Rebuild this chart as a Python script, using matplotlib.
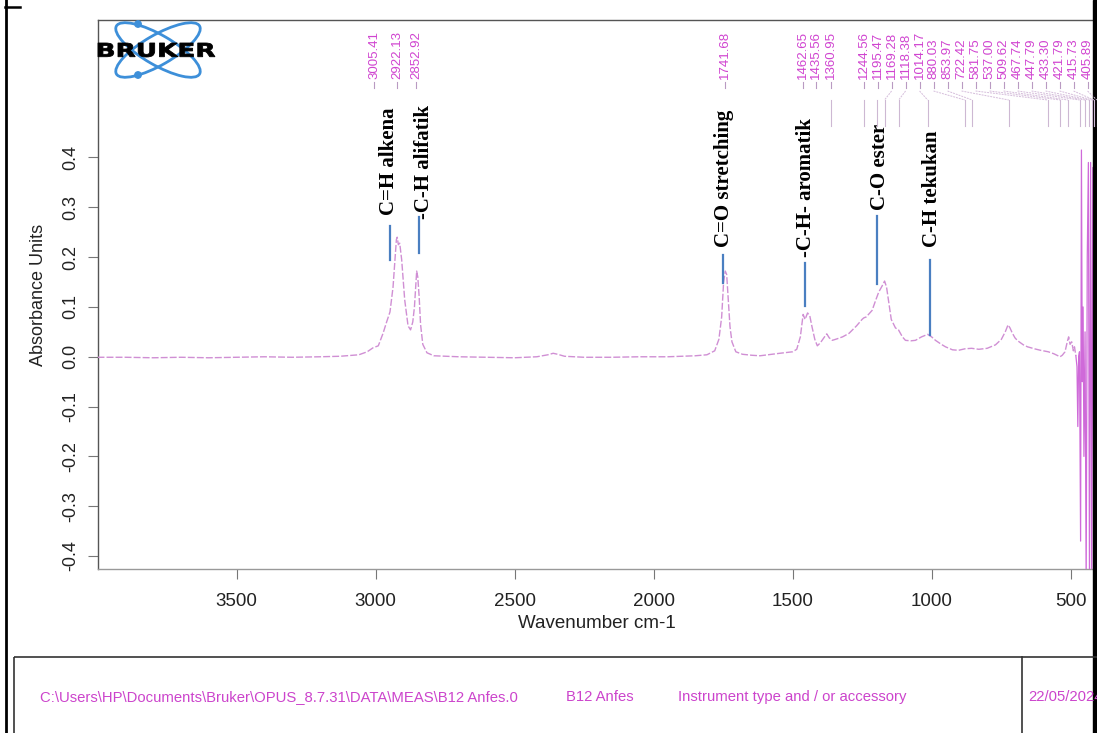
import matplotlib
matplotlib.use("Agg")
import matplotlib.pyplot as plt
from matplotlib.patches import Ellipse, Circle, Rectangle, PathPatch
from matplotlib.textpath import TextPath
from matplotlib.transforms import Affine2D
from matplotlib import font_manager

# ---------------- data ----------------
spec_wn = [4000, 3900, 3800, 3700, 3600, 3500, 3400, 3300, 3200, 3128, 3060, 3030,
           3009, 2990, 2973, 2960, 2948, 2937, 2930, 2925, 2922, 2918, 2913, 2906,
           2895, 2883, 2874, 2866, 2860, 2855, 2852, 2848, 2843, 2838, 2830, 2815,
           2790, 2700, 2600, 2500, 2420, 2380, 2361, 2345, 2320, 2250, 2150, 2050,
           1950, 1850, 1808, 1780, 1765, 1755, 1748, 1742, 1737, 1731, 1725, 1718,
           1704, 1680, 1646, 1617, 1546, 1500, 1485, 1472, 1462, 1455, 1446, 1438,
           1430, 1420, 1411, 1400, 1385, 1377, 1368, 1357, 1340, 1320, 1297, 1270,
           1250, 1244, 1235, 1214, 1200, 1190, 1178, 1169, 1162, 1155, 1145, 1130,
           1119, 1105, 1094, 1075, 1058, 1036, 1014, 1000, 986, 965, 950, 925,
           903, 880, 856, 830, 800, 770, 749, 735, 725, 718, 710, 700,
           690, 670, 655, 630, 608, 580, 560, 545, 538, 530, 520, 512,
           507, 502, 496, 490, 486, 481]
spec_abs = [-0.001, -0.001, -0.002, -0.001, -0.002, -0.001, 0.000, -0.001, 0.000, 0.001, 0.004, 0.010,
            0.018, 0.022, 0.047, 0.070, 0.090, 0.140, 0.195, 0.235, 0.240, 0.225, 0.228, 0.195,
            0.114, 0.062, 0.054, 0.070, 0.100, 0.145, 0.172, 0.160, 0.120, 0.065, 0.025, 0.008,
            0.002, 0.000, -0.001, -0.002, 0.000, 0.004, 0.007, 0.005, 0.001, -0.001, -0.001, 0.000,
            0.000, 0.002, 0.004, 0.012, 0.035, 0.080, 0.150, 0.172, 0.165, 0.113, 0.060, 0.030,
            0.010, 0.005, 0.003, 0.002, 0.007, 0.010, 0.015, 0.040, 0.085, 0.075, 0.088, 0.082,
            0.060, 0.035, 0.022, 0.028, 0.040, 0.046, 0.038, 0.033, 0.036, 0.040, 0.047, 0.062,
            0.075, 0.078, 0.080, 0.093, 0.115, 0.130, 0.142, 0.152, 0.140, 0.113, 0.075, 0.058,
            0.054, 0.040, 0.033, 0.032, 0.033, 0.040, 0.045, 0.040, 0.033, 0.025, 0.020, 0.014,
            0.013, 0.016, 0.017, 0.015, 0.017, 0.024, 0.035, 0.050, 0.064, 0.058, 0.048, 0.038,
            0.032, 0.024, 0.020, 0.016, 0.013, 0.010, 0.006, 0.002, 0.000, 0.003, 0.010, 0.030,
            0.040, 0.025, 0.030, 0.012, 0.020, 0.002]

noise_wn = [481, 477, 474, 471, 468, 464, 461, 458, 455, 452, 448, 444,
            440, 436, 432, 428, 424, 420, 416, 412, 408]
noise_abs = [0.002, -0.02, -0.14, 0.00, 0.01, -0.37, 0.415, -0.05, 0.10, -0.20, 0.05, -0.45,
             0.20, 0.39, -0.45, 0.39, -0.45, 0.38, -0.45, 0.35, -0.45]

peak_wn = [3005.41, 2922.13, 2852.92, 1741.68, 1462.65, 1435.56, 1360.95, 1244.56,
           1195.47, 1169.28, 1118.38, 1014.17, 880.03, 853.97, 722.42, 581.75,
           537.00, 509.62, 467.74, 447.79, 433.30, 421.79, 415.73, 405.89]

x_ticks = [3500, 3000, 2500, 2000, 1500, 1000, 500]
y_ticks = [-0.4, -0.3, -0.2, -0.1, 0.0, 0.1, 0.2, 0.3, 0.4]

annot_text = ["C=H alkena", "-C-H alifatik", "C=O stretching",
              "-C-H- aromatik", "C-O ester", "C-H tekukan"]
annot_line_wn = [2948, 2844, 1750, 1455, 1196, 1005]
annot_line_lo = [0.194, 0.208, 0.148, 0.101, 0.146, 0.043]
annot_line_hi = [0.262, 0.281, 0.204, 0.188, 0.282, 0.194]
annot_text_wn = [2951, 2826, 1747, 1452, 1186, 999]
annot_text_y = [0.284, 0.276, 0.220, 0.200, 0.294, 0.220]

footer_path = "C:\\Users\\HP\\Documents\\Bruker\\OPUS_8.7.31\\DATA\\MEAS\\B12 Anfes.0"
footer_sample = "B12 Anfes"
footer_instr = "Instrument type and / or accessory"
footer_date = "22/05/2024"

# ---------------- styling ----------------
plt.rcParams['font.family'] = ['Liberation Sans', 'DejaVu Sans']
plt.rcParams['axes.unicode_minus'] = False

W, H = 1097, 733
fig = plt.figure(figsize=(W / 100, H / 100), dpi=100)

ax_l, ax_r, ax_t, ax_b = 97.5, 1097, 20, 569
ax = fig.add_axes([ax_l / W, 1 - ax_b / H, (ax_r - ax_l) / W, (ax_b - ax_t) / H])
ax.set_xlim(4000, 405)
ax.set_ylim(-0.426, 0.676)

spec_col = '#d08fd4'
ax.plot(spec_wn, spec_abs, color=spec_col, lw=1.0, dashes=(5, 1.5), zorder=3)
ax.plot(noise_wn, noise_abs, color='#cf6ad9', lw=0.9, zorder=3)

ax.set_xticks(x_ticks)
ax.set_xticklabels([str(t) for t in x_ticks])
ax.set_yticks(y_ticks)
ax.set_yticklabels([f"{t:.1f}" for t in y_ticks])
ax.tick_params(axis='x', length=7, width=0.8, color='#777777', pad=10,
               labelsize=13.5, labelcolor='#222222')
ax.tick_params(axis='y', length=7, width=0.8, color='#777777', pad=6,
               labelsize=13, labelcolor='#222222', labelrotation=90)
for lab in ax.get_yticklabels():
    lab.set_va('center')
ax.spines['right'].set_visible(False)
ax.spines['left'].set_color('#555555')
ax.spines['top'].set_color('#555555')
ax.spines['bottom'].set_color('#999999')
for s in ax.spines.values():
    s.set_linewidth(1.0)

ax.set_xlabel("Wavenumber cm-1", fontsize=13.5, color='#222222', labelpad=4)
ax.set_ylabel("Absorbance Units", fontsize=13, color='#222222')
ax.yaxis.set_label_coords(-(ax_l - 47) / (ax_r - ax_l), 0.5)

# annotations (blue lines + bold serif labels)
for txt, lw_, lo, hi, tw, ty in zip(annot_text, annot_line_wn, annot_line_lo,
                                    annot_line_hi, annot_text_wn, annot_text_y):
    ax.plot([lw_, lw_], [lo, hi], color='#4a7fc1', lw=1.6, zorder=4, clip_on=False)
    ax.text(tw, ty, txt, rotation=90, ha='center', va='bottom', fontsize=15,
            fontweight='bold', family=['Liberation Serif', 'DejaVu Serif'],
            color='black', zorder=5)

# ---------------- overlay in pixel coordinates ----------------
ov = fig.add_axes([0, 0, 1, 1], zorder=10)
ov.set_xlim(0, W)
ov.set_ylim(H, 0)
ov.axis('off')
ov.patch.set_alpha(0)


def to_px(w):
    return ax.transData.transform((w, 0))[0]


# peak labels: isolated ones sit on their peak; the crowded tail is spread evenly
peak_px = [to_px(w) for w in peak_wn]
step = 13.3
crowd_step = 14.0
crowd_start = 7
label_px = []
for i, p in enumerate(peak_px):
    if i >= crowd_start:
        p = peak_px[crowd_start] + (i - crowd_start) * crowd_step
    elif label_px and p < label_px[-1] + step:
        p = label_px[-1] + step
    label_px.append(p)

mag = '#d044d0'
lead = '#b99ac2'
for i, (w, pp, lp) in enumerate(zip(peak_wn, peak_px, label_px)):
    ov.text(lp, 79, f"{w:.2f}", rotation=90, ha='center', va='bottom',
            fontsize=9.5, color=mag)
    ov.plot([lp, lp], [82, 88], color=lead, lw=0.8)
    if i >= 6:
        if abs(lp - pp) > 2:
            ov.plot([lp, pp], [91, 100], color='#d5bddb', lw=0.7, dashes=(2, 1))
        ov.plot([pp, pp], [100, 126], color='#cdb8d3', lw=0.8)

# Bruker logo
logo_blue = '#3d8fd9'
for ang in (30, -30):
    ov.add_patch(Ellipse((158, 50), 96, 30, angle=ang, fill=False,
                         edgecolor=logo_blue, lw=2.0))
ov.add_patch(Circle((138, 24), 3.2, color=logo_blue))
ov.add_patch(Circle((138, 75), 3.2, color=logo_blue))
tp = TextPath((0, 0), "BRUKER", size=20,
              prop=font_manager.FontProperties(family='DejaVu Sans', weight='bold'))
bb = tp.get_extents()
tr = (Affine2D().translate(-bb.x0, -bb.y0)
      .scale(117 / bb.width, -14 / bb.height).translate(98, 57))
ov.add_patch(PathPatch(tr.transform_path(tp), facecolor='black', edgecolor='black',
                       lw=0.6, zorder=12))

# page borders
ov.plot([6, 6], [0, H], color='black', lw=2.0)
ov.plot([5, 20], [6.5, 6.5], color='black', lw=1.8)
ov.add_patch(Rectangle((1093, 0), 6, H, color='black'))

# footer box
ov.add_patch(Rectangle((14, 657), 1100, 100, fill=False, edgecolor='#333333', lw=1.2))
ov.plot([1022, 1022], [657, H], color='#333333', lw=1.2)


def has_font(name):
    try:
        font_manager.findfont(font_manager.FontProperties(family=name),
                              fallback_to_default=False)
        return True
    except Exception:
        return False


if has_font('Liberation Sans Narrow'):
    ffam, fsz = 'Liberation Sans Narrow', 13
else:
    ffam, fsz = 'Liberation Sans', 10.7
for x, t in [(40, footer_path), (566, footer_sample), (678, footer_instr), (1028, footer_date)]:
    ov.text(x, 697, t, ha='left', va='center', fontsize=fsz, family=ffam,
            color='#cc44cc', clip_on=False)

fig.savefig("out.png", dpi=100)
